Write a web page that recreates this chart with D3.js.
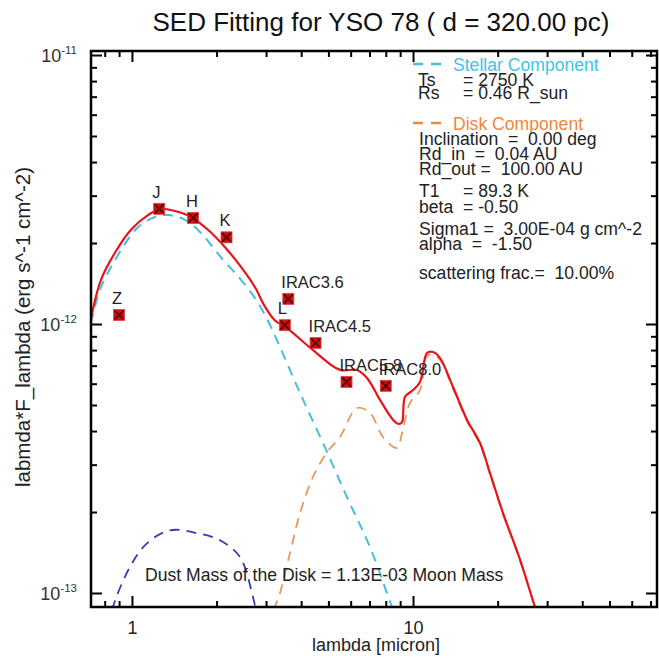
<!DOCTYPE html>
<html>
<head>
<meta charset="utf-8">
<script src="https://cdn.jsdelivr.net/npm/d3@7"></script>
<style>
  body { margin: 0; background: #fff; }
  svg { display: block; font-family: "Liberation Sans", Arial, sans-serif; }
</style>
</head>
<body>
<script>
// Photometric points.
const bands = ['Z', 'J', 'H', 'K', 'L', 'IRAC3.6', 'IRAC4.5', 'IRAC5.8', 'IRAC8.0'];
const bandWave = [0.9, 1.25, 1.65, 2.17, 3.5, 3.6, 4.5, 5.8, 8.0];
const bandFlux = [1.08e-12, 2.68e-12, 2.48e-12, 2.10e-12, 0.99e-12, 1.24e-12, 8.5e-13, 6.09e-13, 5.89e-13];

// Total model (red).
const modelWave = [0.715, 0.776, 0.870, 0.992, 1.140, 1.268, 1.422, 1.622, 1.864, 2.143, 2.443, 2.740, 2.974,
  3.228, 3.561, 4.407, 5.498, 6.320, 6.860, 7.630, 8.500, 8.900, 9.140, 9.366, 10.0, 10.59, 11.21, 11.78, 12.48,
  13.88, 15.57, 17.31, 18.79, 20.91, 24.03, 27.18, 32.0];
const modelFlux = [1.05e-12, 1.46e-12, 1.84e-12, 2.24e-12, 2.54e-12, 2.68e-12, 2.63e-12, 2.50e-12, 2.24e-12,
  1.93e-12, 1.63e-12, 1.37e-12, 1.16e-12, 1.03e-12, 9.66e-13, 8.0e-13, 6.75e-13, 6.75e-13, 6.30e-13, 5.22e-13,
  4.40e-13, 4.25e-13, 4.32e-13, 5.36e-13, 5.68e-13, 6.09e-13, 7.80e-13, 7.87e-13, 7.47e-13, 5.83e-13, 4.40e-13,
  3.61e-13, 2.79e-13, 1.98e-13, 1.33e-13, 8.87e-14, 5.5e-14];

// Stellar component (cyan).
const starWave = [0.715, 0.776, 0.914, 1.050, 1.207, 1.343, 1.544, 1.760, 2.074, 2.443, 2.808, 3.123, 3.363,
  3.962, 4.783, 5.824, 7.031, 8.423, 9.5];
const starFlux = [1.01e-12, 1.37e-12, 1.88e-12, 2.29e-12, 2.50e-12, 2.54e-12, 2.44e-12, 2.18e-12, 1.77e-12,
  1.46e-12, 1.20e-12, 9.75e-13, 8.21e-13, 5.54e-13, 3.61e-13, 2.27e-13, 1.48e-13, 8.87e-14, 6.5e-14];

// Disk component (orange).
const diskWave = [3.1, 3.228, 3.363, 3.650, 3.962, 4.407, 4.943, 5.498, 6.320, 7.031, 7.821, 8.772, 9.140,
  9.757, 10.59, 11.21, 11.78, 12.48, 13.88, 15.57, 17.31, 18.79, 20.91, 24.03, 27.18, 32.0];
const diskFlux = [7.5e-14, 8.87e-14, 1.0e-13, 1.41e-13, 1.98e-13, 2.70e-13, 3.34e-13, 3.80e-13, 4.87e-13,
  4.67e-13, 3.80e-13, 3.46e-13, 3.93e-13, 5.09e-13, 5.68e-13, 7.6e-13, 7.7e-13, 7.35e-13, 5.75e-13, 4.35e-13,
  3.57e-13, 2.76e-13, 1.96e-13, 1.32e-13, 8.8e-14, 5.0e-14];

// Third component (dark blue dome).
const scatWave = [0.83, 0.856, 0.984, 1.131, 1.365, 1.703, 2.057, 2.423, 2.695, 2.80];
const scatFlux = [7.5e-14, 8.87e-14, 1.25e-13, 1.53e-13, 1.71e-13, 1.67e-13, 1.57e-13, 1.36e-13, 9.66e-14, 8.0e-14];

// Axis ticks.
const xMajor = [1, 10];
const xMinor = [0.8, 0.9, 2, 3, 4, 5, 6, 7, 8, 9, 20, 30, 40, 50, 60, 70];
const yMajor = [1e-13, 1e-12, 1e-11];
const yMajorExp = ['-13', '-12', '-11'];
const yMinor = [2e-13, 3e-13, 4e-13, 5e-13, 6e-13, 7e-13, 8e-13, 9e-13,
  2e-12, 3e-12, 4e-12, 5e-12, 6e-12, 7e-12, 8e-12, 9e-12];

// Legend / annotation text.
const stellarLines = [['Ts', '=  2750 K'], ['Rs', '=  0.46 R_sun']];
const diskLines = ['Inclination  =  0.00 deg', 'Rd_in  =  0.04 AU', 'Rd_out =  100.00 AU'];
const diskLines2 = [['T1', '=  89.3 K', 197], ['beta', '=  -0.50', 213]];
const diskLines3 = ['Sigma1 =  3.00E-04 g cm^-2', 'alpha  =  -1.50'];

const width = 659;
const height = 659;
const padL = 91, padR = 657, padT = 51, padB = 607;

const xScale = d3.scaleLog().domain([0.715, 73.8]).range([padL, padR]);
const yScale = d3.scaleLog().domain([8.87e-14, 1.035e-11]).range([padB, padT]);

const svg = d3.select('body')
  .append('svg')
  .attr('width', width)
  .attr('height', height);

svg.append('defs').append('clipPath')
  .attr('id', 'plot-clip')
  .append('rect')
  .attr('x', padL).attr('y', padT)
  .attr('width', padR - padL).attr('height', padB - padT);

const line = d3.line()
  .x(d => xScale(d[0]))
  .y(d => yScale(d[1]))
  .curve(d3.curveCatmullRom.alpha(0.5));

const plot = svg.append('g').attr('clip-path', 'url(#plot-clip)');

plot.append('path')
  .datum(d3.zip(scatWave, scatFlux))
  .attr('d', line)
  .attr('fill', 'none')
  .attr('stroke', '#3a3ab4')
  .attr('stroke-width', 1.8)
  .attr('stroke-dasharray', '10,7');

plot.append('path')
  .datum(d3.zip(diskWave, diskFlux))
  .attr('d', line)
  .attr('fill', 'none')
  .attr('stroke', '#e39a5c')
  .attr('stroke-width', 1.8)
  .attr('stroke-dasharray', '10,7');

plot.append('path')
  .datum(d3.zip(starWave, starFlux))
  .attr('d', line)
  .attr('fill', 'none')
  .attr('stroke', '#46bfd8')
  .attr('stroke-width', 2)
  .attr('stroke-dasharray', '10,7');

plot.append('path')
  .datum(d3.zip(modelWave, modelFlux))
  .attr('d', line)
  .attr('fill', 'none')
  .attr('stroke', '#e8131b')
  .attr('stroke-width', 2.2);

// Markers.
const pts = svg.append('g')
  .selectAll('g')
  .data(d3.zip(bands, bandWave, bandFlux))
  .enter()
  .append('g')
  .attr('transform', d => 'translate(' + xScale(d[1]) + ',' + yScale(d[2]) + ')');

pts.append('rect')
  .attr('x', -5.5).attr('y', -5.5)
  .attr('width', 11).attr('height', 11)
  .attr('fill', '#cc0f0f')
  .attr('stroke', '#e04040')
  .attr('stroke-width', 0.8);

pts.append('path')
  .attr('d', 'M-4.5,-4.5L4.5,4.5M-4.5,4.5L4.5,-4.5')
  .attr('stroke', '#5a0000')
  .attr('stroke-width', 1.6);

pts.append('text')
  .attr('x', -7)
  .attr('y', -11)
  .attr('font-size', 16.5)
  .attr('fill', '#222')
  .text(d => d[0]);

// Axes: ticks point inward on all four sides.
function styleAxis(g) {
  g.select('.domain').remove();
  g.selectAll('.tick line').attr('stroke', '#000').attr('stroke-width', 2);
}

svg.append('g')
  .attr('transform', 'translate(0,' + padB + ')')
  .call(d3.axisBottom(xScale).tickValues(xMajor).tickSize(-11).tickPadding(14).tickFormat(d3.format('d')))
  .call(styleAxis)
  .call(g => g.attr('font-family', null).attr('font-size', 18))
  .call(g => g.selectAll('text').attr('fill', '#222'));

svg.append('g')
  .attr('transform', 'translate(0,' + padB + ')')
  .call(d3.axisBottom(xScale).tickValues(xMinor).tickSize(-6).tickFormat(''))
  .call(styleAxis);

svg.append('g')
  .attr('transform', 'translate(0,' + padT + ')')
  .call(d3.axisTop(xScale).tickValues(xMajor).tickSize(-11).tickFormat(''))
  .call(styleAxis);

svg.append('g')
  .attr('transform', 'translate(0,' + padT + ')')
  .call(d3.axisTop(xScale).tickValues(xMinor).tickSize(-6).tickFormat(''))
  .call(styleAxis);

svg.append('g')
  .attr('transform', 'translate(' + padL + ',0)')
  .call(d3.axisLeft(yScale).tickValues(yMajor).tickSize(-11).tickFormat(''))
  .call(styleAxis);

svg.append('g')
  .attr('transform', 'translate(' + padL + ',0)')
  .call(d3.axisLeft(yScale).tickValues(yMinor).tickSize(-6).tickFormat(''))
  .call(styleAxis);

svg.append('g')
  .attr('transform', 'translate(' + padR + ',0)')
  .call(d3.axisRight(yScale).tickValues(yMajor).tickSize(-11).tickFormat(''))
  .call(styleAxis);

svg.append('g')
  .attr('transform', 'translate(' + padR + ',0)')
  .call(d3.axisRight(yScale).tickValues(yMinor).tickSize(-6).tickFormat(''))
  .call(styleAxis);

// Frame.
svg.append('rect')
  .attr('x', padL).attr('y', padT)
  .attr('width', padR - padL).attr('height', padB - padT)
  .attr('fill', 'none')
  .attr('stroke', '#000')
  .attr('stroke-width', 2.5);

// Y tick labels with superscript exponents.
const yLab = svg.append('g')
  .selectAll('text')
  .data(d3.zip(yMajor, yMajorExp))
  .enter()
  .append('text')
  .attr('x', 77)
  .attr('y', d => yScale(d[0]) + 7)
  .attr('text-anchor', 'end')
  .attr('font-size', 18)
  .attr('fill', '#333');
yLab.append('tspan').text('10');
yLab.append('tspan')
  .attr('dy', -8)
  .attr('font-size', 11.5)
  .text(d => d[1]);

// Titles.
svg.append('text')
  .attr('x', 381)
  .attr('y', 31)
  .attr('text-anchor', 'middle')
  .attr('font-size', 26)
  .attr('fill', '#111')
  .text('SED Fitting for YSO 78 ( d = 320.00 pc)');

svg.append('text')
  .attr('x', 376)
  .attr('y', 651)
  .attr('text-anchor', 'middle')
  .attr('font-size', 18)
  .attr('fill', '#222')
  .text('lambda [micron]');

svg.append('text')
  .attr('transform', 'translate(30,327) rotate(-90)')
  .attr('text-anchor', 'middle')
  .attr('font-size', 20.5)
  .attr('fill', '#222')
  .text('labmda*F_lambda (erg s^-1 cm^-2)');

// Legend block.
const leg = svg.append('g').attr('font-size', 17.6).attr('fill', '#222');

leg.append('line')
  .attr('x1', 413).attr('x2', 444).attr('y1', 64).attr('y2', 64)
  .attr('stroke', '#46bfd8').attr('stroke-width', 2.5).attr('stroke-dasharray', '10,8');
leg.append('text').attr('x', 453).attr('y', 71).attr('fill', '#3fc3e6').text('Stellar Component');

stellarLines.forEach((d, i) => {
  leg.append('text').attr('x', 418).attr('y', 86 + i * 13).text(d[0]);
  leg.append('text').attr('x', 463).attr('y', 86 + i * 13).text(d[1]);
});

leg.append('line')
  .attr('x1', 413).attr('x2', 444).attr('y1', 123).attr('y2', 123)
  .attr('stroke', '#ef8a3a').attr('stroke-width', 2.5).attr('stroke-dasharray', '10,8');
leg.append('text').attr('x', 453).attr('y', 130).attr('fill', '#f0873a').text('Disk Component');

diskLines.forEach((t, i) => {
  leg.append('text').attr('x', 419).attr('y', 145 + i * 15).attr('xml:space', 'preserve').text(t);
});
diskLines2.forEach(d => {
  leg.append('text').attr('x', 419).attr('y', d[2]).text(d[0]);
  leg.append('text').attr('x', 463).attr('y', d[2]).text(d[1]);
});
diskLines3.forEach((t, i) => {
  leg.append('text').attr('x', 419).attr('y', 235 + i * 15).attr('xml:space', 'preserve').text(t);
});
leg.append('text').attr('x', 419).attr('y', 279).attr('xml:space', 'preserve').text('scattering frac.=  10.00%');

svg.append('text')
  .attr('x', 145)
  .attr('y', 581)
  .attr('font-size', 17.6)
  .attr('fill', '#222')
  .text('Dust Mass of the Disk = 1.13E-03 Moon Mass');
</script>
</body>
</html>
